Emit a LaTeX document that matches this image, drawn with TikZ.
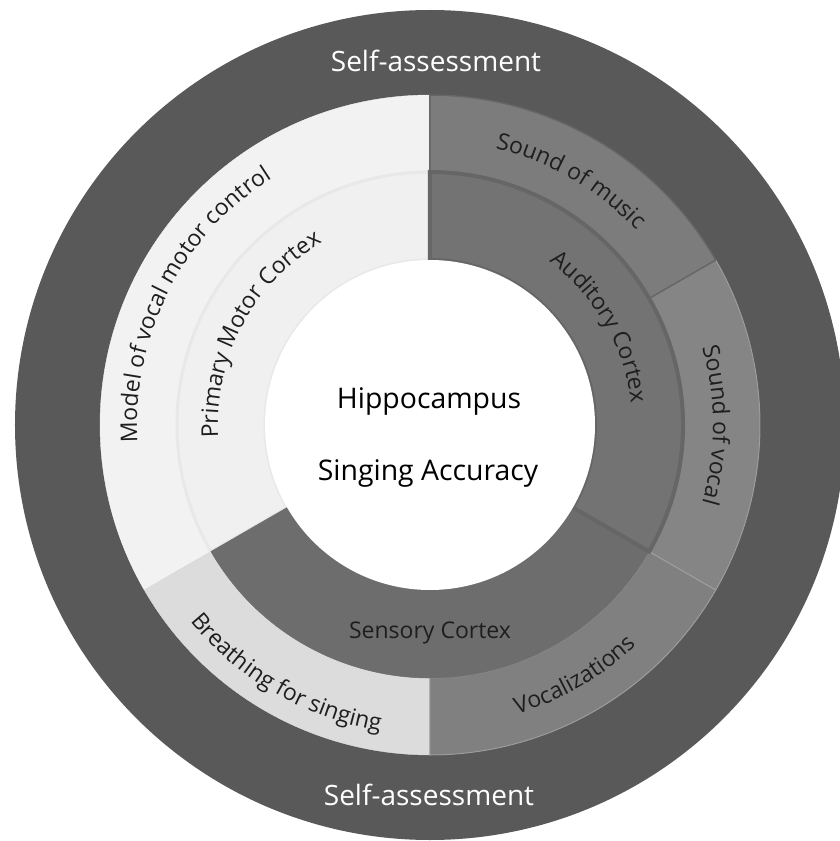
\documentclass[tikz,border=0pt]{standalone}
\usepackage{fontspec}
\setmainfont{Open Sans}
\usetikzlibrary{decorations.text}

\definecolor{bandgray}{HTML}{595959}
\definecolor{musicgray}{HTML}{7C7C7C}
\definecolor{vocalgray}{HTML}{858585}
\definecolor{vocalizgray}{HTML}{808080}
\definecolor{audgray}{HTML}{737373}
\definecolor{sensgray}{HTML}{6D6D6D}
\definecolor{modelgray}{HTML}{F2F2F2}
\definecolor{motorgray}{HTML}{F0F0F0}
\definecolor{breathgray}{HTML}{DCDCDC}
\definecolor{edgegray}{HTML}{666666}
\definecolor{textgray}{HTML}{1E1E1E}

% annular sector: options, inner radius, outer radius, start angle, end angle
\newcommand{\ringpart}[5]{%
  \filldraw[#1] (#4:#3) arc[start angle=#4,end angle=#5,radius=#3]
    -- (#5:#2) arc[start angle=#5,end angle=#4,radius=#2] -- cycle;}

\tikzset{
  selflabel/.style={text=white,font=\fontsize{28}{28}\selectfont,anchor=base},
  centrelabel/.style={text=black,font=\fontsize{28.4}{28.4}\selectfont,anchor=base},
  ringlabel/.style={text=textgray,font=\fontsize{23}{23}\selectfont,anchor=base},
  arclabel/.style={decorate,decoration={text along path,text align=center,
      text color=textgray,text={|\fontsize{23}{23}\selectfont|#1}}}
}

\begin{document}
\begin{tikzpicture}[x=1pt,y=1pt]
    \useasboundingbox (-430,-416) rectangle (410,425);
    \clip (-430,-416) rectangle (410,425);
    \fill[bandgray] (0,0) circle[radius=415pt];% outer band
    \draw[edgegray!70!black,line width=1pt] (0,0) circle[radius=330pt];% edge of the band
    % outer ring
    \ringpart{fill=modelgray,draw=modelgray}{253pt}{330pt}{90}{210}% model of vocal motor control
    \ringpart{fill=breathgray,draw=breathgray}{253pt}{330pt}{210}{270}% breathing for singing
    \ringpart{fill=vocalizgray,draw=vocalgray!80!white,line width=1pt}{253pt}{330pt}{270}{330}% vocalizations
    \ringpart{fill=vocalgray,draw=vocalgray!80!white,line width=1pt}{253pt}{330pt}{-30}{30}% sound of vocal
    \ringpart{fill=musicgray,draw=edgegray,line width=1.5pt}{253pt}{330pt}{30}{90}% sound of music
    % inner ring
    \ringpart{fill=motorgray,draw=black!9,line width=3pt}{165pt}{253pt}{90}{210}% primary motor cortex
    \ringpart{fill=sensgray,draw=sensgray}{165pt}{253pt}{210}{330}% sensory cortex
    \ringpart{fill=audgray,draw=edgegray,line width=4pt}{165pt}{253pt}{-30}{90}% auditory cortex
    \fill[white] (0,0) circle[radius=165pt];% centre
    % straight labels
    \node[selflabel] (selftop) at (6,353) {Self-assessment};
    \node[selflabel] (selfbottom) at (-1,-380) {Self-assessment};
    \node[centrelabel] (hippo) at (-1,17) {Hippocampus};
    \node[centrelabel] (accuracy) at (-2,-55) {Singing Accuracy};
    \node[ringlabel] (sensory) at (0,-213) {Sensory Cortex};
    % curved labels, clockwise ones read with tops outward
    \path[arclabel={Model of vocal motor control}] (213:293pt) arc[start angle=213,end angle=93,radius=293pt];
    \path[arclabel={Primary Motor Cortex}] (212:212pt) arc[start angle=212,end angle=92,radius=212pt];
    \path[arclabel={Sound of music}] (90:284pt) arc[start angle=90,end angle=30,radius=284pt];
    \path[arclabel={Sound of vocal}] (30:283pt) arc[start angle=30,end angle=-30,radius=283pt];
    \path[arclabel={Auditory Cortex}] (90:202pt) arc[start angle=90,end angle=-30,radius=202pt];
    % bottom ones read with tops inward
    \path[arclabel={Breathing for singing}] (210:310pt) arc[start angle=210,end angle=270,radius=310pt];
    \path[arclabel={Vocalizations}] (270:302pt) arc[start angle=270,end angle=330,radius=302pt];
\end{tikzpicture}
\end{document}
